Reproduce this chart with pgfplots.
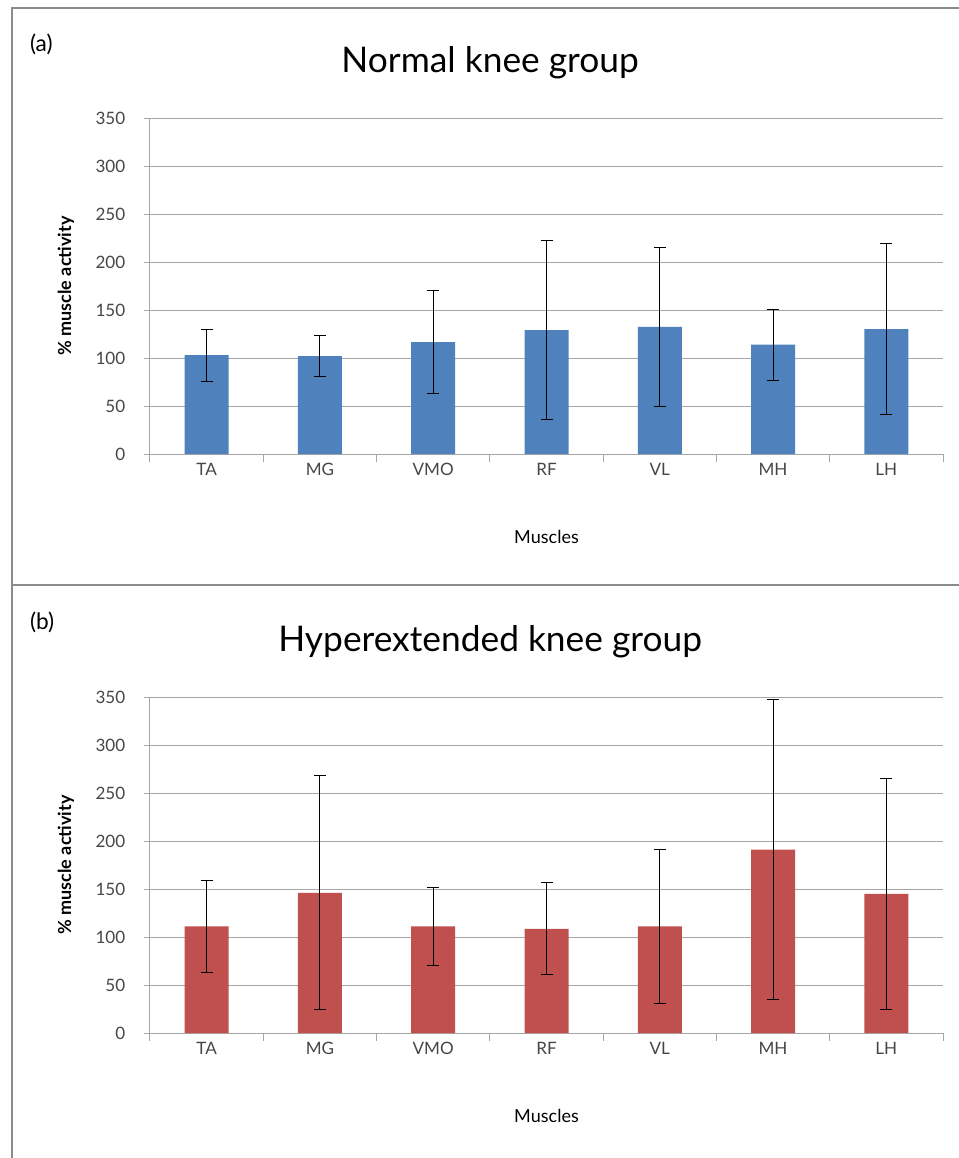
\documentclass[border=0pt]{standalone}
\usepackage{pgfplots}
\pgfplotsset{compat=1.18}
\usepackage{fontspec}
\setmainfont{Lato}
\definecolor{barblue}{RGB}{79,129,189}
\definecolor{barred}{RGB}{192,80,77}
\definecolor{gridgray}{RGB}{166,166,166}
\definecolor{framegray}{RGB}{140,140,140}
\definecolor{ticktext}{RGB}{70,70,70}
\pgfplotsset{
  musclestyle/.style={
    scale only axis,
    width=594.75pt, height=252pt,
    anchor=south west,
    xmin=-0.5, xmax=6.5, ymin=0, ymax=350,
    ytick={0,50,...,350},
    xtick={0,...,6},
    xticklabels={TA,MG,VMO,RF,VL,MH,LH},
    minor xtick={-0.5,0.5,...,6.5},
    axis lines*=left,
    axis line style={gridgray, line width=0.75pt, -},
    tick align=outside,
    major tick length=4.5pt,
    minor tick length=6pt,
    every major x tick/.append style={draw=none},
    every minor x tick/.append style={gridgray, line width=0.75pt},
    every major y tick/.append style={gridgray, line width=0.75pt},
    ymajorgrids,
    grid style={gridgray, line width=0.75pt},
    /pgf/number format/assume math mode=true,
    ticklabel style={font=\fontsize{12.8}{14}\selectfont, text=ticktext},
    xticklabel style={yshift=1.5pt, text height=9.5pt, text depth=0pt},
    yticklabel style={xshift=-10.5pt},
    xlabel={Muscles},
    xlabel style={at={(axis description cs:0.5,-0.247)}, anchor=center, font=\fontsize{13.5}{15}\selectfont},
    ylabel={\% muscle activity},
    ylabel style={at={(axis description cs:-0.106,0.5)}, anchor=center, font=\bfseries\fontsize{13.5}{15}\selectfont},
    title style={at={(axis description cs:0.429,1.14)}, anchor=center, font=\fontsize{26.5}{30}\selectfont},
    ybar, bar width=33pt,
  },
  errstyle/.style={
    error bars/.cd, y dir=both, y explicit,
    error bar style={black, line width=0.75pt},
    error mark options={rotate=90, black, line width=0.75pt, mark size=4.5pt},
  }
}
\begin{document}
\begin{tikzpicture}
\path[use as bounding box] (0,0) rectangle (719.25pt,-868.5pt);
\draw[framegray, line width=1.5pt] (9pt,-868.5pt) -- (9pt,-6pt) -- (719.25pt,-6pt);
\draw[framegray, line width=2pt] (9pt,-438.75pt) -- (719.25pt,-438.75pt);
\node[anchor=west, font=\fontsize{17}{19}\selectfont] at (19pt,-33pt) {(a)};
\node[anchor=west, font=\fontsize{17}{19}\selectfont] at (19pt,-466.5pt) {(b)};

\begin{axis}[musclestyle, at={(112.5pt,-340.5pt)}, title={Normal knee group}]
\addplot[fill=barblue, draw=none, errstyle] coordinates {
  (0,103) +- (0,27)
  (1,102) +- (0,21.5)
  (2,116.5) +- (0,53.5)
  (3,129) +- (0,93.5)
  (4,132.5) +- (0,82.5)
  (5,114) +- (0,37)
  (6,130) +- (0,89)
};
\end{axis}

\begin{axis}[musclestyle, at={(112.5pt,-774.75pt)}, title={Hyperextended knee group}]
\addplot[fill=barred, draw=none, errstyle] coordinates {
  (0,111) +- (0,47.5)
  (1,146) +- (0,122)
  (2,111) +- (0,40.5)
  (3,108.5) +- (0,48)
  (4,111) +- (0,80)
  (5,191) +- (0,156.5)
  (6,145) +- (0,120)
};
\end{axis}
\end{tikzpicture}
\end{document}
